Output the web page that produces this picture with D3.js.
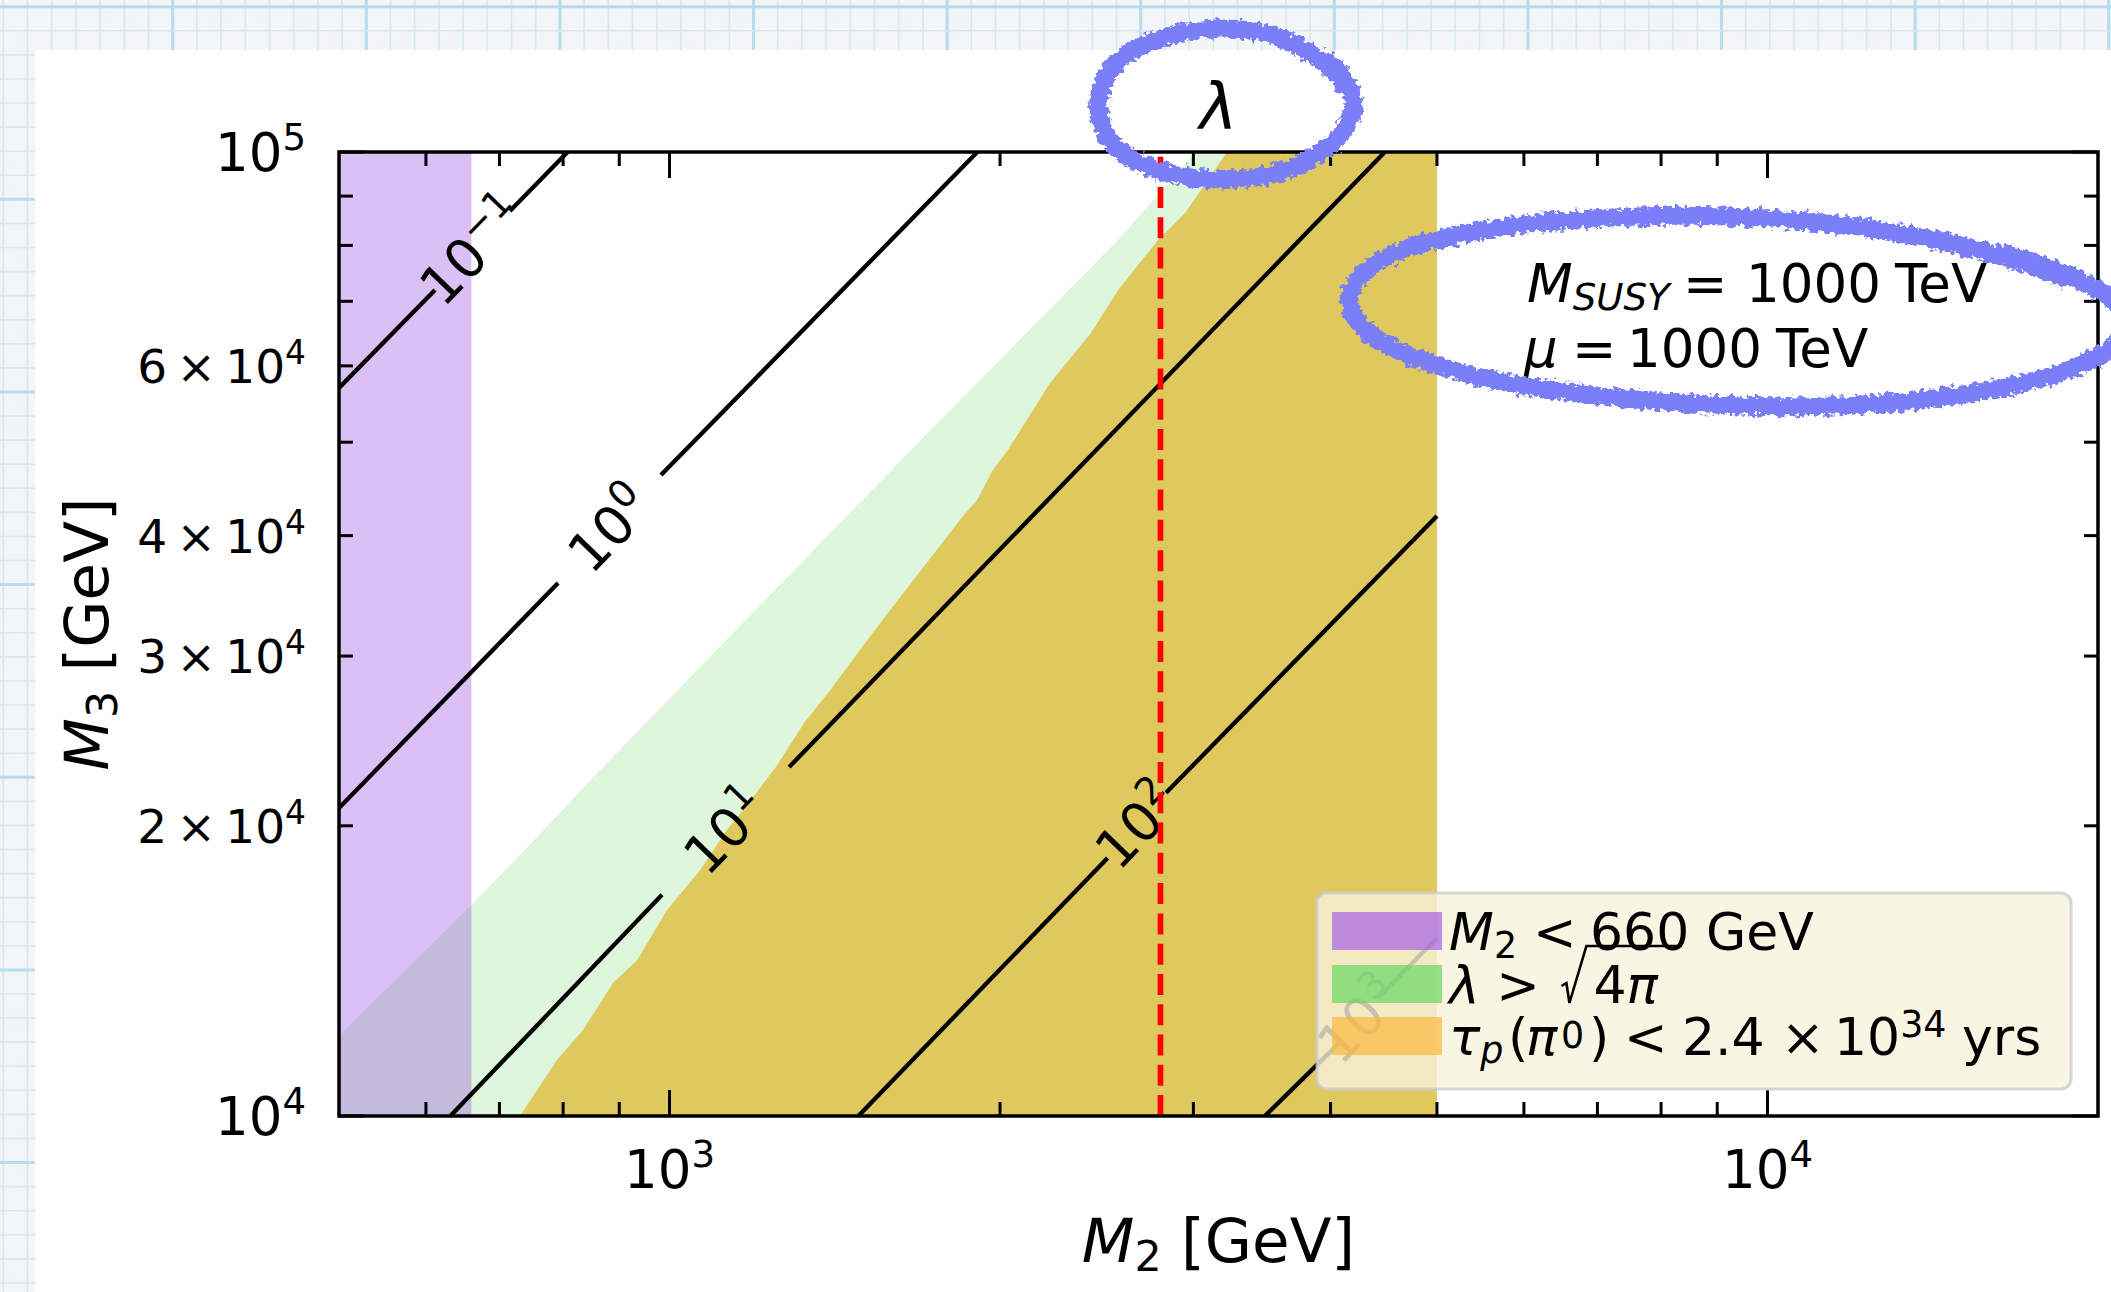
<!DOCTYPE html>
<html>
<head>
<meta charset="utf-8">
<script src="https://cdn.jsdelivr.net/npm/d3@7/dist/d3.min.js"></script>
<style>
  html, body { margin: 0; padding: 0; background: #ffffff; overflow: hidden; }
  svg { display: block; }
  svg text { font-family: "DejaVu Sans", sans-serif; white-space: pre; fill: #000; }
</style>
</head>
<body>
<svg id="chart" width="2111" height="1292"></svg>
<script>
// ---- parameter space: wino mass M2 vs gluino mass M3 (GeV) ----
const m2Domain = [500, 20000];
const m3Domain = [1e4, 1e5];
const m2ScanMax = 5000;      // upper end of the M2 scan
const m2Bound = 660;         // excluded: M2 < 660 GeV
const m2Reference = 2800;    // dashed reference mass

// lambda contour levels (exponent of 10) and their drawn pieces,
// each contour is split where its inline label sits
const contourExponents = ["\u22121", "0", "1", "2", "3"];
const contourPieces = [
  [[[500, 56920], [611.5, 71930]], [[715.6, 86860], [807.6, 100000]]],
  [[[500, 20870], [791.6, 35720]], [[982.3, 46220], [1907, 100000]]],
  [[[631.6, 10000], [984.4, 16960]], [[1285, 23010], [4482, 100000]]],
  [[[1486, 10000], [2506, 18520]], [[2833, 21640], [5000, 41920]]],
  [[[3485, 10000], [4081, 11930]], [[4419, 13260], [5000, 15300]]]
];

// boundary of lambda > sqrt(4 pi)
const lambdaEdge = [
  [500, 12100], [660, 16550], [757.5, 19470], [864.4, 22850],
  [1660, 49100], [2562, 81050], [3011, 100000]
];

// boundary of tau_p(pi0) < 2.4e34 yrs
const protonEdge = [
  [730.9, 10000], [789.7, 11430], [834.1, 12280], [888.2, 13740], [934.1, 14510],
  [994.8, 16360], [1066, 17990], [1128, 19810], [1167, 20770], [1250, 23010],
  [1326, 25570], [1401, 27660], [1507, 30950], [1581, 33250], [1660, 35720],
  [1760, 38930], [1847, 41820], [1906, 43550], [1970, 46780], [2034, 49100],
  [2221, 57600], [2420, 64890], [2562, 71930], [2786, 81050], [2948, 86440],
  [3219, 100000]
];

// ticks
const xMajorTicks = [1e3, 1e4];
const xMinorTicks = [600, 700, 800, 900, 2000, 3000, 4000, 5000, 6000, 7000, 8000, 9000];
const yMajorTicks = [1e4, 1e5];
const yMinorTicks = [2e4, 3e4, 4e4, 5e4, 6e4, 7e4, 8e4, 9e4];
const xTickLabels = [[1e3, "3"], [1e4, "4"]];                 // value, exponent
const yTickLabels = [[1e4, "", "4"], [2e4, "2", "4"], [3e4, "3", "4"],
                     [4e4, "4", "4"], [6e4, "6", "4"], [1e5, "", "5"]]; // value, mantissa, exponent

// ---- layout ----
const W = 2111, H = 1292;
const plot = { left: 339, right: 2098, top: 152, bottom: 1116 };

const svg = d3.select("#chart");
const defs = svg.append("defs");

const x = d3.scaleLog().domain(m2Domain).range([plot.left, plot.right]);
const y = d3.scaleLog().domain(m3Domain).range([plot.bottom, plot.top]);
const pt = d => [x(d[0]), y(d[1])];

// writes mathtext-like runs (italic, sub/superscripts, optional pen position) into a text element
function mathText(sel, parts, fs) {
  let cur = 0;
  for (const p of parts) {
    const off = p.sup != null ? -p.sup * fs : (p.sub != null ? p.sub * fs : 0);
    const ts = sel.append("tspan").attr("dy", (off - cur).toFixed(2)).text(p.t);
    cur = off;
    if (p.at != null) ts.attr("x", p.at);
    if (p.sup != null || p.sub != null) ts.attr("font-size", (fs * 0.7).toFixed(1));
    if (p.it) ts.attr("font-style", "italic");
  }
  return sel;
}

// ---- graph-paper page and white panel ----
const paper = svg.append("g");
paper.append("rect").attr("width", W).attr("height", H).attr("fill", "#f3f5f6");
const noise = defs.append("filter").attr("id", "paperNoise");
noise.append("feTurbulence").attr("type", "fractalNoise").attr("baseFrequency", "0.035")
  .attr("numOctaves", 3).attr("seed", 7);
noise.append("feColorMatrix").attr("type", "matrix")
  .attr("values", "0 0 0 0 0.86  0 0 0 0 0.87  0 0 0 0 0.88  0 0 0 -1.2 0.75");
paper.append("rect").attr("width", W).attr("height", H).attr("filter", "url(#paperNoise)").attr("opacity", 0.35);
d3.range(0, 88).forEach(k => {
  const gx = 3.3 + 24.2 * k, major = k % 8 === 7;
  paper.append("line").attr("x1", gx).attr("x2", gx).attr("y1", 0).attr("y2", H)
    .attr("stroke", major ? "#b8dcef" : "#d3e9f4").attr("stroke-width", major ? 3 : 1.6);
});
d3.range(0, 54).forEach(k => {
  const gy = 6.7 + 24.08 * k, major = k % 8 === 0;
  paper.append("line").attr("x1", 0).attr("x2", W).attr("y1", gy).attr("y2", gy)
    .attr("stroke", major ? "#b8dcef" : "#d3e9f4").attr("stroke-width", major ? 3 : 1.6);
});
svg.append("rect").attr("x", 35).attr("y", 50).attr("width", W - 35).attr("height", H - 50).attr("fill", "#ffffff");

// ---- plot area ----
defs.append("clipPath").attr("id", "plotClip").append("rect")
  .attr("x", plot.left).attr("y", plot.top)
  .attr("width", plot.right - plot.left).attr("height", plot.bottom - plot.top);
const area = svg.append("g").attr("clip-path", "url(#plotClip)");
const poly = pts => "M" + pts.map(p => pt(p).map(v => v.toFixed(2)).join(",")).join("L") + "Z";

// lambda > sqrt(4 pi)
area.append("path")
  .attr("d", poly([[m2Domain[0], m3Domain[0]], ...lambdaEdge, [m2ScanMax, m3Domain[1]], [m2ScanMax, m3Domain[0]]]))
  .attr("fill", "#def6dc");
// proton lifetime exclusion
area.append("path")
  .attr("d", poly([...protonEdge, [m2ScanMax, m3Domain[1]], [m2ScanMax, m3Domain[0]]]))
  .attr("fill", "#dfc95f");
// M2 < 660 GeV
area.append("rect")
  .attr("x", x(m2Domain[0])).attr("y", plot.top)
  .attr("width", x(m2Bound) - x(m2Domain[0])).attr("height", plot.bottom - plot.top)
  .attr("fill", "rgb(137,45,223)").attr("fill-opacity", 0.3);

// lambda contours with inline labels
const labelFs = 54;
contourPieces.forEach((pieces, i) => {
  pieces.forEach(seg => {
    area.append("line")
      .attr("x1", x(seg[0][0])).attr("y1", y(seg[0][1]))
      .attr("x2", x(seg[1][0])).attr("y2", y(seg[1][1]))
      .attr("stroke", "#000").attr("stroke-width", 4.3);
  });
  const a = pt(pieces[0][0]), b = pt(pieces[1][1]);
  const ang = Math.atan2(b[1] - a[1], b[0] - a[0]) * 180 / Math.PI;
  const g1 = pt(pieces[0][1]), g2 = pt(pieces[1][0]);
  const cx = (g1[0] + g2[0]) / 2, cy = (g1[1] + g2[1]) / 2;
  const t = area.append("text")
    .attr("transform", `translate(${cx},${cy}) rotate(${ang})`)
    .attr("x", 0).attr("y", labelFs * 0.36)
    .attr("text-anchor", "middle").attr("font-size", labelFs);
  mathText(t, [{ t: "10" }, { t: contourExponents[i], sup: 0.4 }], labelFs);
});

// dashed reference line
area.append("line")
  .attr("x1", x(m2Reference)).attr("x2", x(m2Reference))
  .attr("y1", plot.bottom).attr("y2", plot.top)
  .attr("stroke", "#ff0000").attr("stroke-width", 5.7).attr("stroke-dasharray", "21 9.27");

// ---- axes: spines, inward ticks on all sides ----
const axes = svg.append("g");
const majLen = 26, minLen = 14;
[...xMajorTicks.map(v => [v, majLen]), ...xMinorTicks.map(v => [v, minLen])].forEach(([v, len]) => {
  axes.append("line").attr("x1", x(v)).attr("x2", x(v)).attr("y1", plot.bottom).attr("y2", plot.bottom - len)
    .attr("stroke", "#000").attr("stroke-width", 3);
  axes.append("line").attr("x1", x(v)).attr("x2", x(v)).attr("y1", plot.top).attr("y2", plot.top + len)
    .attr("stroke", "#000").attr("stroke-width", 3);
});
[...yMajorTicks.map(v => [v, majLen]), ...yMinorTicks.map(v => [v, minLen])].forEach(([v, len]) => {
  axes.append("line").attr("y1", y(v)).attr("y2", y(v)).attr("x1", plot.left).attr("x2", plot.left + len)
    .attr("stroke", "#000").attr("stroke-width", 3);
  axes.append("line").attr("y1", y(v)).attr("y2", y(v)).attr("x1", plot.right).attr("x2", plot.right - len)
    .attr("stroke", "#000").attr("stroke-width", 3);
});
axes.append("rect").attr("x", plot.left).attr("y", plot.top)
  .attr("width", plot.right - plot.left).attr("height", plot.bottom - plot.top)
  .attr("fill", "none").attr("stroke", "#000").attr("stroke-width", 3.5);

// tick labels
const majFs = 53, minFs = 47;
xTickLabels.forEach(([v, e]) => {
  const t = axes.append("text").attr("x", x(v)).attr("y", 1188).attr("text-anchor", "middle").attr("font-size", majFs);
  mathText(t, [{ t: "10" }, { t: e, sup: 0.4 }], majFs);
});
yTickLabels.forEach(([v, m, e]) => {
  const fs = m === "" ? majFs : minFs;
  const t = axes.append("text").attr("x", 306).attr("y", y(v) + fs * 0.365)
    .attr("text-anchor", "end").attr("font-size", fs);
  mathText(t, [{ t: (m === "" ? "" : m + "\u2009\u00d7\u2009") + "10" }, { t: e, sup: 0.4 }], fs);
});

// axis labels and title
const labFs = 61;
mathText(axes.append("text").attr("x", (plot.left + plot.right) / 2).attr("y", 1262)
  .attr("text-anchor", "middle").attr("font-size", labFs),
  [{ t: "M", it: 1 }, { t: "2", sub: 0.15 }, { t: " [GeV]" }], labFs);
mathText(axes.append("text").attr("transform", `translate(108,${(plot.top + plot.bottom) / 2}) rotate(-90)`)
  .attr("text-anchor", "middle").attr("font-size", labFs),
  [{ t: "M", it: 1 }, { t: "3", sub: 0.15 }, { t: " [GeV]" }], labFs);
axes.append("text").attr("x", (plot.left + plot.right) / 2).attr("y", 129)
  .attr("text-anchor", "middle").attr("font-size", 64).attr("font-style", "italic").text("\u03bb");

// ---- legend ----
const leg = svg.append("g");
const legFs = 52;
leg.append("rect").attr("x", 1317).attr("y", 893).attr("width", 754).attr("height", 196)
  .attr("rx", 10).attr("ry", 10)
  .attr("fill", "rgb(248,243,220)").attr("fill-opacity", 0.8)
  .attr("stroke", "#cccccc").attr("stroke-opacity", 0.8).attr("stroke-width", 3);
const swatches = ["#a861e5", "#67d763", "#f9b83f"];
const rowBase = [950, 1003, 1055];
swatches.forEach((c, i) => {
  leg.append("rect").attr("x", 1332).attr("y", rowBase[i] - 38).attr("width", 110).attr("height", 38)
    .attr("fill", c).attr("fill-opacity", 0.7);
});
const lx = 1449;
mathText(leg.append("text").attr("x", lx).attr("y", rowBase[0]).attr("font-size", legFs),
  [{ t: "M", it: 1 }, { t: "2", sub: 0.15 }, { t: "<", at: 1533 }, { t: "660", at: 1590 }, { t: "GeV", at: 1706 }], legFs);
const r2 = mathText(leg.append("text").attr("x", lx).attr("y", rowBase[1]).attr("font-size", legFs),
  [{ t: "\u03bb", it: 1 }, { t: " > " }], legFs);
const rx0 = lx + r2.node().getComputedTextLength();
leg.append("path")
  .attr("d", `M${rx0 + 5},${rowBase[1] - 17} L${rx0 + 10},${rowBase[1] - 20} L${rx0 + 13},${rowBase[1]} L${rx0 + 30},${rowBase[1] - 57} L${rx0 + 125},${rowBase[1] - 57}`)
  .attr("fill", "none").attr("stroke", "#000").attr("stroke-width", 2.6).attr("stroke-linejoin", "miter");
mathText(leg.append("text").attr("x", rx0 + 37).attr("y", rowBase[1]).attr("font-size", legFs),
  [{ t: "4" }, { t: "\u03c0", it: 1 }], legFs);
mathText(leg.append("text").attr("x", lx).attr("y", rowBase[2]).attr("font-size", legFs),
  [{ t: "\u03c4", it: 1 }, { t: "p", sub: 0.15, it: 1 }, { t: "(", at: 1508 }, { t: "\u03c0", it: 1, at: 1526 },
   { t: "0", sup: 0.13, at: 1561 }, { t: ")", at: 1589 }, { t: "<", at: 1624 }, { t: "2.4", at: 1682 },
   { t: "\u00d7", at: 1781 }, { t: "10", at: 1834 }, { t: "34", sup: 0.35 }, { t: "yrs", at: 1962 }], legFs);

// ---- benchmark annotation ----
const annFs = 53;
mathText(svg.append("text").attr("x", 1527).attr("y", 302).attr("font-size", annFs),
  [{ t: "M", it: 1 }, { t: "SUSY", sub: 0.15, it: 1 }, { t: "=", at: 1683 }, { t: "1000", at: 1746 }, { t: "TeV", at: 1895 }], annFs);
mathText(svg.append("text").attr("x", 1524).attr("y", 367).attr("font-size", annFs),
  [{ t: "\u03bc", it: 1 }, { t: "=", at: 1572 }, { t: "1000", at: 1627 }, { t: "TeV", at: 1776 }], annFs);

// ---- hand-drawn marker loops ----
const rough = defs.append("filter").attr("id", "rough")
  .attr("x", "-10%").attr("y", "-20%").attr("width", "120%").attr("height", "140%");
rough.append("feTurbulence").attr("type", "fractalNoise").attr("baseFrequency", "0.2")
  .attr("numOctaves", 2).attr("seed", 4).attr("result", "n");
rough.append("feDisplacementMap").attr("in", "SourceGraphic").attr("in2", "n")
  .attr("scale", 12).attr("xChannelSelector", "R").attr("yChannelSelector", "G");

function loop(cx, cy, rx, ry, rot, t0, extra, shrink, wob) {
  const n = 240, pts = [];
  const c = Math.cos(rot * Math.PI / 180), s = Math.sin(rot * Math.PI / 180);
  for (let i = 0; i <= n; i++) {
    const f = i / n, t = t0 + f * (2 * Math.PI + extra);
    const k = 1 - shrink * f + wob * Math.sin(3 * t + 1) + wob * 0.6 * Math.sin(5 * t + 2);
    const ex = rx * k * Math.cos(t), ey = ry * k * Math.sin(t);
    pts.push([cx + ex * c - ey * s, cy + ex * s + ey * c]);
  }
  return d3.line().curve(d3.curveBasis)(pts);
}
const marks = svg.append("g").attr("filter", "url(#rough)");
const ink = "#7a7ef7";
[[0, 18], [4, 10]].forEach(([d, w]) => {
  marks.append("path").attr("d", loop(1222.5 + d * 0.3, 104, 129 - d, 77 - d * 0.5, 0, -0.6, 0.35, 0.035, 0.012))
    .attr("fill", "none").attr("stroke", ink).attr("stroke-width", w).attr("stroke-linecap", "round");
  marks.append("path").attr("d", loop(1730, 311 + d * 0.3, 393 - d, 96 - d * 0.5, 2, -0.8, 0.3, 0.03, 0.01))
    .attr("fill", "none").attr("stroke", ink).attr("stroke-width", w).attr("stroke-linecap", "round");
});
</script>
</body>
</html>
